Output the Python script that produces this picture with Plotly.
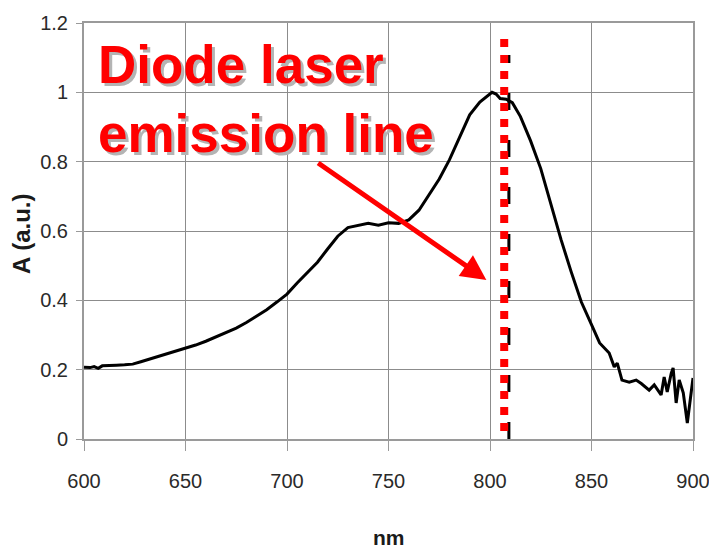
import plotly.graph_objects as go

# Spectrum data (wavelength in nm, absorbance in a.u.)
wavelength = [600, 603, 605, 607, 609, 612, 616, 620, 624, 628, 632, 636, 640, 645, 650,
              655, 660, 665, 670, 675, 680, 685, 690, 695, 700, 705, 710, 715, 720, 725,
              730, 735, 740, 745, 750, 755, 760, 765, 770, 775, 780, 785, 790, 795, 798,
              801, 803, 805, 808, 811, 815, 820, 825, 830, 835, 840, 845, 850, 854, 858.7,
              861.2, 862.7, 865, 868.6, 872, 874.5, 878.4, 880.9, 884.3, 885.8, 887.3,
              889.3, 890.2, 891.7, 893.2, 895.2, 897.2, 900]
absorbance = [0.207, 0.206, 0.209, 0.204, 0.211, 0.211, 0.213, 0.214, 0.216, 0.223, 0.230,
              0.236, 0.243, 0.252, 0.262, 0.271, 0.282, 0.295, 0.307, 0.320, 0.336, 0.354,
              0.373, 0.395, 0.418, 0.450, 0.480, 0.510, 0.548, 0.585, 0.610, 0.617, 0.622,
              0.617, 0.624, 0.622, 0.632, 0.660, 0.705, 0.750, 0.805, 0.870, 0.935, 0.972,
              0.985, 1.000, 0.995, 0.982, 0.980, 0.970, 0.930, 0.860, 0.780, 0.675, 0.575,
              0.482, 0.395, 0.330, 0.277, 0.248, 0.208, 0.219, 0.170, 0.164, 0.170, 0.160,
              0.141, 0.156, 0.127, 0.179, 0.136, 0.190, 0.205, 0.104, 0.170, 0.133, 0.046,
              0.176]

laser_nm = 807.0
laser_span = [0.0, 1.154]
marker_nm = 809.3
marker_span = [0.0, 1.108]

x_ticks = [600, 650, 700, 750, 800, 850, 900]
y_ticks = [0, 0.2, 0.4, 0.6, 0.8, 1.0, 1.2]
y_tick_text = ["0", "0.2", "0.4", "0.6", "0.8", "1", "1.2"]

label_text = "Diode laser<br>emission line"
arrow_tail = (714.6, 0.799)
arrow_head = (798.2, 0.459)

tick_font = dict(family="Liberation Sans, Arial, sans-serif", size=20, color="#2a2a2a")
title_font = dict(family="Liberation Sans, Arial, sans-serif", size=21, color="#1a1a1a")

fig = go.Figure()

fig.add_trace(go.Scatter(x=wavelength, y=absorbance, mode="lines",
                         line=dict(color="black", width=3), showlegend=False,
                         hoverinfo="skip"))

fig.add_trace(go.Scatter(x=[marker_nm, marker_nm], y=marker_span, mode="lines",
                         line=dict(color="black", width=3, dash="17px,30px"),
                         showlegend=False, hoverinfo="skip"))

fig.add_trace(go.Scatter(x=[laser_nm, laser_nm], y=[laser_span[1], laser_span[0]], mode="lines",
                         line=dict(color="#ff0000", width=8, dash="8px,8px"),
                         showlegend=False, hoverinfo="skip"))

# label with shadow
label_font = dict(family="Liberation Sans, Arial, sans-serif", size=53)
for dx, dy, col in [(3, -3, "#b4b4b4"), (0, 0, "#ff0000")]:
    fig.add_annotation(x=606.0, y=1.172, xref="x", yref="y", text="<b>" + label_text + "</b>",
                       showarrow=False, xanchor="left", yanchor="top", align="left",
                       xshift=dx, yshift=dy, font=dict(label_font, color=col))

fig.add_annotation(x=arrow_head[0], y=arrow_head[1], xref="x", yref="y",
                   ax=arrow_tail[0], ay=arrow_tail[1], axref="x", ayref="y",
                   text="", showarrow=True, arrowhead=2, arrowsize=1, arrowwidth=5,
                   arrowcolor="#ff0000")

# axis titles
fig.add_annotation(x=0.5, y=-0.2356, xref="paper", yref="paper", text="<b>nm</b>",
                   showarrow=False, xanchor="center", yanchor="middle", font=title_font)
fig.add_annotation(x=-0.1018, y=0.493, xref="paper", yref="paper", text="<b>A (a.u.)</b>",
                   showarrow=False, xanchor="center", yanchor="middle", textangle=-90,
                   font=dict(title_font, size=24))

fig.update_layout(
    width=709, height=548,
    margin=dict(l=84, r=16, t=23, b=109, autoexpand=False),
    paper_bgcolor="white", plot_bgcolor="white",
    xaxis=dict(range=[600, 900], tickvals=x_ticks, ticktext=[str(v) for v in x_ticks],
               showgrid=True, gridcolor="#8c8c8c", gridwidth=1,
               showline=True, linecolor="#9a9a9a", linewidth=2, mirror=True,
               ticks="outside", ticklen=10, tickcolor="#9a9a9a", tickwidth=1,
               tickfont=tick_font, ticklabelstandoff=13, ticklabeloverflow="allow",
               zeroline=False, automargin=False),
    yaxis=dict(range=[0, 1.2], tickvals=y_ticks, ticktext=y_tick_text,
               showgrid=True, gridcolor="#8c8c8c", gridwidth=1,
               showline=True, linecolor="#9a9a9a", linewidth=2, mirror=True,
               ticks="outside", ticklen=6, tickcolor="#9a9a9a", tickwidth=1,
               tickfont=tick_font, ticklabelstandoff=4, zeroline=False, automargin=False),
)

fig.write_html("out.html", config={"displayModeBar": False},
               post_script="document.body.style.margin='0';document.body.style.overflow='hidden';")
